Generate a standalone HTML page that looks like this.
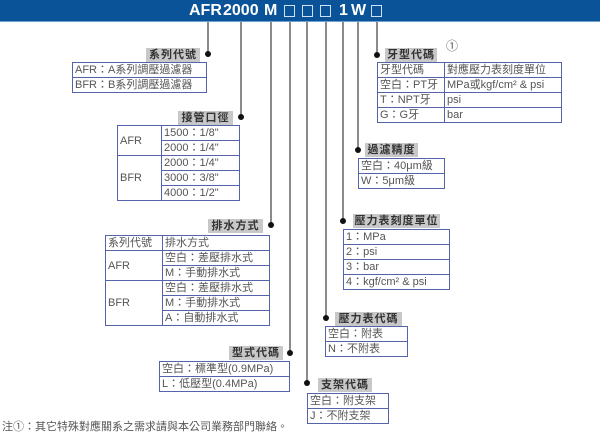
<!DOCTYPE html>
<html><head><meta charset="utf-8">
<style>
*{margin:0;padding:0;box-sizing:border-box}
body{width:600px;height:434px;background:#fff;position:relative;overflow:hidden;font-family:"Liberation Sans","Noto Sans CJK TC",sans-serif;color:#555}
.bar{position:absolute;left:0;top:0;width:600px;height:22px;background:#0a5399;border-bottom:1px solid #6fa0cf}
.t{position:absolute;top:3px;color:#fff;font-weight:bold;font-size:16px;line-height:16px}
.bx{position:absolute;top:5px;width:11px;height:12px;border:1.3px solid #cfe0f0}
.v{position:absolute;width:1.5px;background:#8a8a8a;top:22px}
.dot{position:absolute;width:6px;height:6px;border-radius:50%;background:#111}
.lab{position:absolute;background:#c8c8c8;color:#333;font-weight:bold;font-size:11px;line-height:14px;height:14px;text-align:center;letter-spacing:1px}
table{position:absolute;border-collapse:collapse;font-size:11px;color:#555}
td{border:1.3px solid #5563ad;padding:0 2px;line-height:12px;white-space:nowrap}
.note{position:absolute;left:2px;top:418px;font-size:11px;color:#555}
</style></head><body>
<div class="bar"></div>
<div class="t" style="left:189px">AFR</div>
<div class="t" style="left:223px">2000</div>
<div class="t" style="left:264px">M</div>
<div class="bx" style="left:284px"></div>
<div class="bx" style="left:302px"></div>
<div class="bx" style="left:320px"></div>
<div class="t" style="left:339px">1</div>
<div class="t" style="left:351px">W</div>
<div class="bx" style="left:371px"></div>

<div class="v" style="left:207px;height:32px"></div>
<div class="v" style="left:240px;height:95px"></div>
<div class="v" style="left:270px;height:203px"></div>
<div class="v" style="left:289px;height:331px"></div>
<div class="v" style="left:306px;height:361px"></div>
<div class="v" style="left:325px;height:296px"></div>
<div class="v" style="left:342px;height:199px"></div>
<div class="v" style="left:357px;height:128px"></div>
<div class="v" style="left:376px;height:33px"></div>

<div class="dot" style="left:205px;top:51px"></div>
<div class="lab" style="left:146px;top:48px;width:54px">系列代號</div>
<table style="left:72px;top:62px;width:135px"><tr><td style="height:15px">AFR：A系列調壓過濾器</td></tr><tr><td style="height:15px">BFR：B系列調壓過濾器</td></tr></table>

<div class="dot" style="left:238px;top:114px"></div>
<div class="lab" style="left:178px;top:111px;width:55px">接管口徑</div>
<table style="left:117px;top:125px;width:123px">
<tr><td rowspan="2" style="width:44px">AFR</td><td style="height:15px">1500：1/8"</td></tr>
<tr><td style="height:15px">2000：1/4"</td></tr>
<tr><td rowspan="3">BFR</td><td style="height:15px">2000：1/4"</td></tr>
<tr><td style="height:15px">3000：3/8"</td></tr>
<tr><td style="height:15px">4000：1/2"</td></tr>
</table>

<div class="dot" style="left:268px;top:222px"></div>
<div class="lab" style="left:208px;top:219px;width:55px">排水方式</div>
<table style="left:105px;top:235px;width:165px">
<tr><td style="width:57px;height:15px">系列代號</td><td>排水方式</td></tr>
<tr><td rowspan="2">AFR</td><td style="height:15px">空白：差壓排水式</td></tr>
<tr><td style="height:15px">M：手動排水式</td></tr>
<tr><td rowspan="3">BFR</td><td style="height:15px">空白：差壓排水式</td></tr>
<tr><td style="height:15px">M：手動排水式</td></tr>
<tr><td style="height:15px">A：自動排水式</td></tr>
</table>

<div class="dot" style="left:287px;top:350px"></div>
<div class="lab" style="left:229px;top:346px;width:54px">型式代碼</div>
<table style="left:159px;top:361px;width:131px"><tr><td style="height:15px">空白：標準型(0.9MPa)</td></tr><tr><td style="height:15px">L：低壓型(0.4MPa)</td></tr></table>

<div class="dot" style="left:304px;top:380px"></div>
<div class="lab" style="left:318px;top:378px;width:54px">支架代碼</div>
<table style="left:307px;top:393px;width:82px"><tr><td style="height:15px">空白：附支架</td></tr><tr><td style="height:15px">J：不附支架</td></tr></table>

<div class="dot" style="left:323px;top:315px"></div>
<div class="lab" style="left:335px;top:312px;width:67px">壓力表代碼</div>
<table style="left:325px;top:326px;width:83px"><tr><td style="height:15px">空白：附表</td></tr><tr><td style="height:15px">N：不附表</td></tr></table>

<div class="dot" style="left:340px;top:218px"></div>
<div class="lab" style="left:353px;top:214px;width:87px">壓力表刻度單位</div>
<table style="left:343px;top:229px;width:107px">
<tr><td style="height:15px">1：MPa</td></tr><tr><td style="height:15px">2：psi</td></tr><tr><td style="height:15px">3：bar</td></tr><tr><td style="height:15px">4：kgf/cm² &amp; psi</td></tr>
</table>

<div class="dot" style="left:355px;top:147px"></div>
<div class="lab" style="left:365px;top:143px;width:53px">過濾精度</div>
<table style="left:358px;top:158px;width:87px"><tr><td style="height:15px">空白：40μm級</td></tr><tr><td style="height:15px">W：5μm級</td></tr></table>

<div class="dot" style="left:374px;top:52px"></div>
<div class="lab" style="left:385px;top:48px;width:52px">牙型代碼</div>
<div style="position:absolute;left:446px;top:37px;font-size:12px;color:#555">①</div>
<table style="left:377px;top:62px;width:185px">
<tr><td style="width:67px;height:15px">牙型代碼</td><td>對應壓力表刻度單位</td></tr>
<tr><td style="height:15px">空白：PT牙</td><td>MPa或kgf/cm² &amp; psi</td></tr>
<tr><td style="height:15px">T：NPT牙</td><td>psi</td></tr>
<tr><td style="height:15px">G：G牙</td><td>bar</td></tr>
</table>

<div class="note">注①：其它特殊對應關系之需求請與本公司業務部門聯絡。</div>
</body></html>
